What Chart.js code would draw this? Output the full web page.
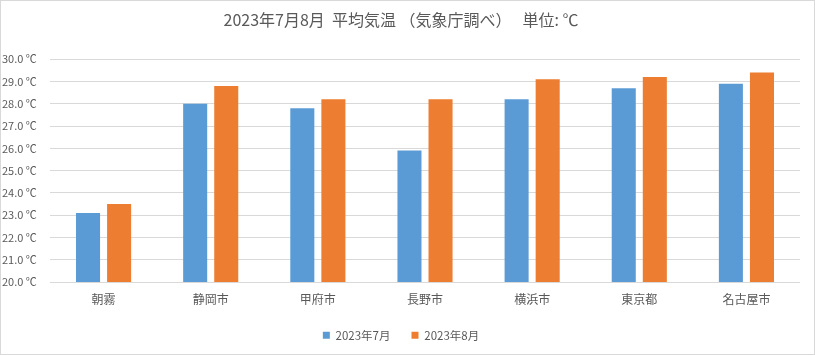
<!DOCTYPE html>
<html><head><meta charset="utf-8">
<script src="https://cdn.jsdelivr.net/npm/chart.js@4/dist/chart.umd.min.js"></script>
<style>html,body{margin:0;padding:0;background:#fff}#wrap{width:815px;height:355px;position:relative}</style>
</head><body><div id="wrap"><canvas id="c" width="815" height="355"></canvas></div>
<script>
const categories = ['朝霧','静岡市','甲府市','長野市','横浜市','東京都','名古屋市'];
const july = [23.1, 28.0, 27.8, 25.9, 28.2, 28.7, 28.9];
const august = [23.5, 28.8, 28.2, 28.2, 29.1, 29.2, 29.4];
const seriesNames = ['2023年7月','2023年8月'];
const titleText = '2023年7月8月  平均気温 （気象庁調べ）   単位: ℃';
const FONT = '"Noto Sans CJK JP", "Noto Sans", sans-serif';
const borderPlugin = {id:'outer',afterDraw(ch){const c=ch.ctx;c.save();c.strokeStyle='#d9d9d9';c.lineWidth=1;c.strokeRect(0.5,0.5,ch.width-1,ch.height-1);c.restore();}};
new Chart(document.getElementById('c'),{
  type:'bar',
  data:{labels:categories,datasets:[
    {label:seriesNames[0],data:july,backgroundColor:'#5b9bd5',categoryPercentage:0.58,barPercentage:0.774},
    {label:seriesNames[1],data:august,backgroundColor:'#ed7d31',categoryPercentage:0.58,barPercentage:0.774}
  ]},
  options:{
    responsive:false,animation:false,
    layout:{padding:{left:2,right:15,top:6,bottom:4}},
    plugins:{
      title:{display:true,text:titleText,color:'#595959',font:{family:FONT,size:16,weight:'normal'},padding:{top:4,bottom:30}},
      legend:{position:'bottom',labels:{color:'#595959',font:{family:FONT,size:11.5},boxWidth:7,boxHeight:7,padding:21},},
      tooltip:{enabled:false}
    },
    scales:{
      x:{grid:{display:false},border:{display:false},ticks:{color:'#595959',font:{family:FONT,size:12},padding:2}},
      y:{min:20,max:30,afterFit(s){s.width=48;},
        grid:{color:'#d9d9d9',drawTicks:false},border:{display:false},
        ticks:{stepSize:1,color:'#595959',font:{family:FONT,size:11},crossAlign:'far',padding:0,
          callback:v=>v.toFixed(1)+' ℃'}}
    }
  },
  plugins:[borderPlugin]
});
</script></body></html>
